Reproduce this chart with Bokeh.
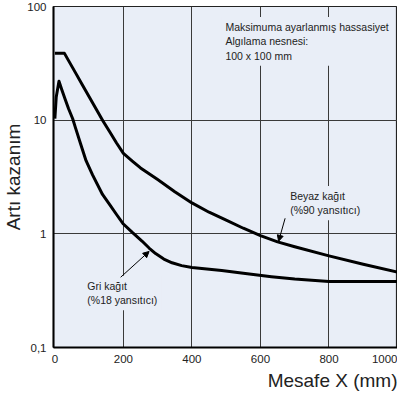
from bokeh.plotting import figure
from bokeh.models import Range1d, FixedTicker, Label, Arrow, NormalHead, Title
from bokeh.embed import file_html
from bokeh.resources import INLINE

# ---- data ----
x_ticks = [0, 200, 400, 600, 800, 1000]
y_ticks = [0.1, 1, 10, 100]
y_tick_labels = ["0,1", "1", "10", "100"]

beyaz_x = [0, 28, 40, 60, 80, 100, 120, 140, 160, 180, 200, 226, 250, 300, 350,
           400, 450, 500, 550, 600, 650, 700, 800, 900, 1000]
beyaz_y = [38.7, 38.7, 33.4, 26.2, 20.5, 16.1, 12.6, 9.9, 7.9, 6.3, 5.1, 4.37, 3.8, 3.0, 2.35,
           1.87, 1.55, 1.32, 1.12, 0.965, 0.85, 0.77, 0.64, 0.54, 0.46]

gri_x = [0, 4, 12, 20, 30, 40, 52, 60, 75, 91, 110, 139, 160, 180, 200, 226, 255, 275, 294,
         318, 342, 370, 400, 487, 550, 632, 700, 800, 900, 1000]
gri_y = [10.3, 16.0, 22.0, 18.6, 15.3, 12.6, 10.3, 8.6, 6.2, 4.4, 3.3, 2.22, 1.81, 1.48, 1.22,
         1.03, 0.86, 0.75, 0.67, 0.60, 0.556, 0.525, 0.505, 0.476, 0.45, 0.42, 0.40, 0.38, 0.38, 0.38]

note_text = "Maksimuma ayarlanmış hassasiyet\nAlgılama nesnesi:\n100 x 100 mm"
beyaz_text = "Beyaz kağıt\n(%90 yansıtıcı)"
gri_text = "Gri kağıt\n(%18 yansıtıcı)"
y_title = "Artı kazanım"
x_title = "Mesafe X (mm)"

BG = "#E9EEF7"
INK = "#222222"
FONT = "Liberation Sans"

p = figure(width=397, height=400, y_axis_type="log",
           x_range=Range1d(-4, 1000), y_range=Range1d(0.1, 100),
           output_backend="svg", toolbar_location=None,
           min_border_left=51, min_border_right=0, min_border_top=6, min_border_bottom=53)

p.background_fill_color = BG
p.border_fill_color = "white"
p.outline_line_color = INK
p.outline_line_width = 1.2

p.xgrid.ticker = FixedTicker(ticks=x_ticks[1:-1])
p.ygrid.ticker = FixedTicker(ticks=y_ticks[1:-1])
for g in (p.xgrid, p.ygrid):
    g.grid_line_color = "#3a3a3a"
    g.grid_line_width = 1

p.xaxis.ticker = FixedTicker(ticks=x_ticks)
p.yaxis.ticker = FixedTicker(ticks=y_ticks)
p.yaxis.major_label_overrides = {v: s for v, s in zip(y_ticks, y_tick_labels)}

for ax in (p.xaxis, p.yaxis):
    ax.major_tick_line_color = None
    ax.minor_tick_line_color = None
    ax.major_tick_out = 0
    ax.major_tick_in = 0
    ax.minor_tick_out = 0
    ax.minor_tick_in = 0
    ax.axis_line_color = "black"
    ax.axis_line_width = 2
    ax.major_label_text_font = FONT
    ax.major_label_text_font_size = "11.5px"
    ax.major_label_text_color = INK
p.xaxis.major_label_standoff = 7
p.yaxis.major_label_standoff = 7

p.yaxis.axis_label = y_title
p.yaxis.axis_label_text_font = FONT
p.yaxis.axis_label_text_font_size = "19px"
p.yaxis.axis_label_text_font_style = "normal"
p.yaxis.axis_label_text_color = INK
p.yaxis.axis_label_standoff = 0

p.add_layout(Title(text=x_title, align="right", text_font=FONT, text_font_size="19px",
                   text_font_style="normal", text_color=INK, standoff=4), "below")

p.line(beyaz_x, beyaz_y, line_width=3, color="black", line_join="round")
p.line(gri_x, gri_y, line_width=3, color="black", line_join="round")

common = dict(text_font=FONT, text_font_size="10.5px", text_color=INK,
              text_baseline="top", text_align="left", background_fill_color=BG,
              text_line_height=1.2, padding=4)
p.add_layout(Label(x=486, y=81, text=note_text, **common))
p.add_layout(Label(x=675, y=2.64, text=beyaz_text, **common))
p.add_layout(Label(x=83, y=0.428, text=gri_text, **common))

p.add_layout(Arrow(x_start=192, y_start=0.415, x_end=275, y_end=0.70, line_width=1,
                   line_color="black",
                   end=NormalHead(size=6, fill_color="black", line_color="black")))
p.add_layout(Arrow(x_start=672, y_start=1.37, x_end=653, y_end=0.86, line_width=1,
                   line_color="black",
                   end=NormalHead(size=6, fill_color="black", line_color="black")))

open("out.html", "w").write(file_html(p, INLINE))
